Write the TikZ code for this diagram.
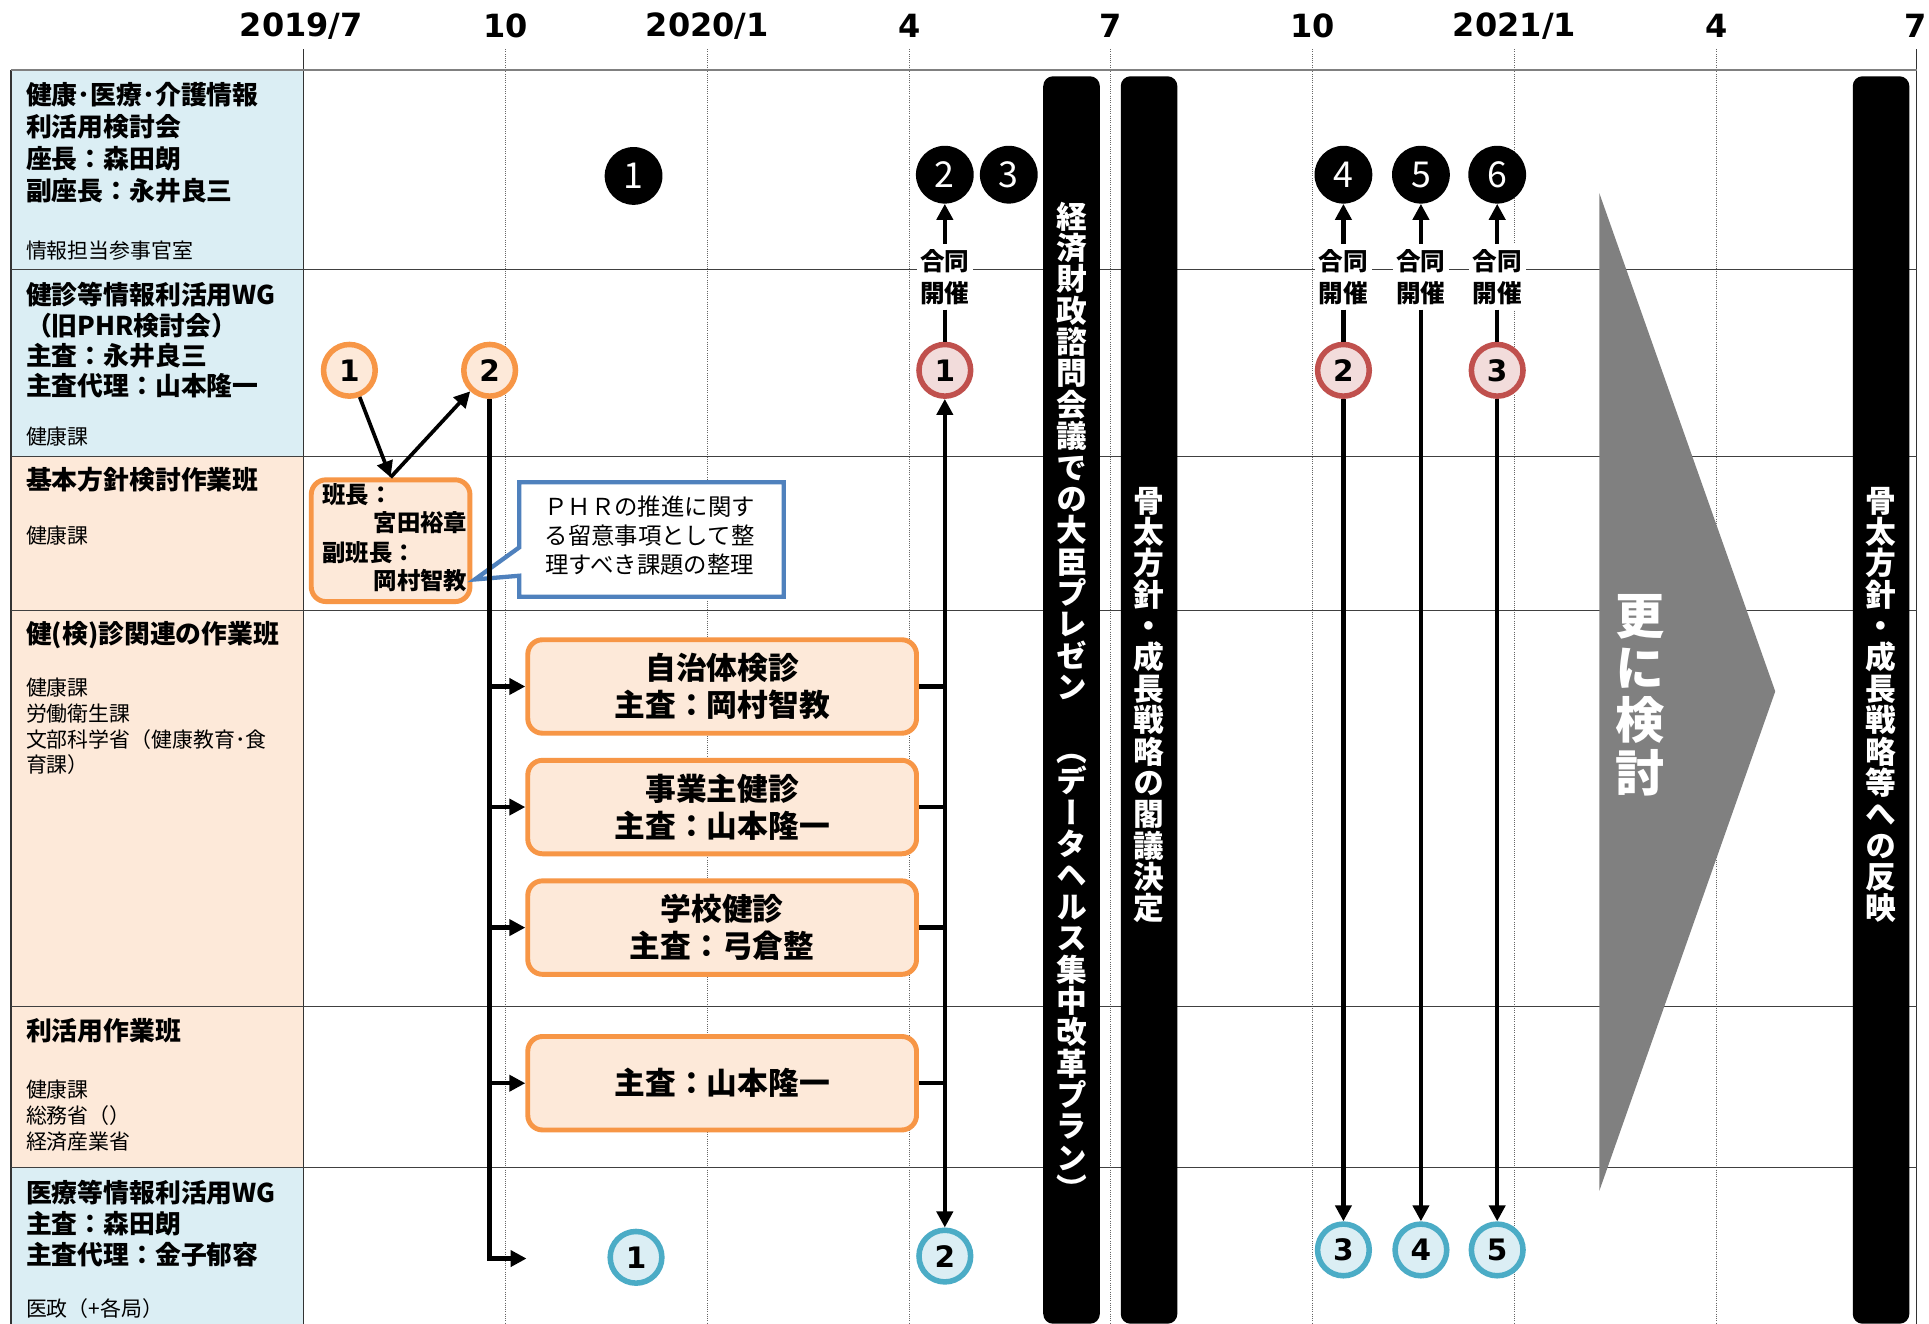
\documentclass[tikz,border=0pt]{standalone}
\usepackage{fontspec}
\setmainfont{Noto Sans CJK JP}
\newfontfamily\dv{DejaVu Sans}
\newfontfamily\vjp[RawFeature=+vert]{Noto Sans CJK JP}
\usetikzlibrary{arrows.meta}
\definecolor{lblue}{HTML}{DBEEF4}
\definecolor{peach}{HTML}{FDE9D9}
\definecolor{oline}{HTML}{F79646}
\definecolor{rfill}{HTML}{F2DCDB}
\definecolor{rline}{HTML}{C0504D}
\definecolor{bline}{HTML}{4BACC6}
\definecolor{cline}{HTML}{4F81BD}
\definecolor{trig}{HTML}{808080}
\definecolor{rowline}{HTML}{404040}
\begin{document}
\begin{tikzpicture}[x=1pt,y=-1pt,
 hb/.style={font=\bfseries\fontsize{21}{26}\selectfont, align=left, anchor=west, inner sep=0pt},
 hs/.style={font=\fontsize{17}{21}\selectfont, align=left, anchor=west, inner sep=0pt},
 tl/.style={font=\dv\bfseries\fontsize{26}{30}\selectfont, inner sep=0pt},
 bc/.style={circle, fill=black, minimum size=47pt, inner sep=0pt, text=white, font=\fontsize{29}{30}\selectfont},
 cc/.style={circle, minimum size=42pt, inner sep=0pt, line width=4.5pt, font=\dv\bfseries\fontsize{24}{26}\selectfont},
 oc/.style={cc, draw=oline, fill=peach},
 rc/.style={cc, draw=rline, fill=rfill},
 lc/.style={cc, draw=bline, fill=lblue},
 gl/.style={fill=white, font=\bfseries\fontsize{20}{26}\selectfont, align=center, inner xsep=3pt, inner ysep=4pt},
 ob/.style={draw=oline, fill=peach, line width=4pt, rounded corners=12pt, minimum width=316pt, minimum height=76pt, align=center, inner sep=0pt, font=\bfseries\fontsize{25}{30}\selectfont},
 hn/.style={font=\bfseries\fontsize{19}{23}\selectfont, inner sep=0pt},
 bar/.style={fill=black, rounded corners=8pt},
 vt/.style={text=white, align=center, inner sep=0pt, font=\vjp\bfseries\fontsize{25}{25.5}\selectfont},
 thk/.style={line width=3.6pt},
 arr/.style={thk, -{Triangle[length=13pt,width=13pt]}},
 grid/.style={densely dotted, line width=0.8pt, black!60},
 rl/.style={line width=1pt, rowline}
]
\useasboundingbox (0,0) rectangle (1568,1076);
\fill[white] (0,0) rectangle (1568,1076);

% header column fills
\fill[lblue] (9,57) rectangle (247,219);
\fill[lblue] (9,219) rectangle (247,371);
\fill[peach] (9,371) rectangle (247,496);
\fill[peach] (9,496) rectangle (247,818);
\fill[peach] (9,818) rectangle (247,949);
\fill[lblue] (9,949) rectangle (247,1076);

% grid lines
\foreach \gx in {411,575,739,903,1067,1231,1395}
  \draw[grid] (\gx,40) -- (\gx,1076);
\draw[line width=1pt, black!80] (247,40) -- (247,1076);
\draw[line width=1pt, black!80] (1558,40) -- (1558,1076);
\draw[line width=1pt, black!80] (9,57) -- (9,1076);
\draw[line width=1.2pt, black!50] (9,57) -- (1558,57);
\foreach \gy in {219,371,496,818,949}
  \draw[rl] (9,\gy) -- (1558,\gy);

% timeline labels
\node[tl] (t1) at (245,21) {2019/7};
\node[tl] (t2) at (411,21) {10};
\node[tl] (t3) at (575,21) {2020/1};
\node[tl] (t4) at (739,21) {4};
\node[tl] (t5) at (903,21) {7};
\node[tl] (t6) at (1067,21) {10};
\node[tl] (t7) at (1231,21) {2021/1};
\node[tl] (t8) at (1395,21) {4};
\node[tl] (t9) at (1557,21) {7};

% row headers
\node[hb] (h1) at (21,116) {健康･医療･介護情報\\利活用検討会\\座長：森田朗\\副座長：永井良三};
\node[hs] (h1s) at (21,204) {情報担当参事官室};
\node[hb, font=\bfseries\fontsize{21}{24.5}\selectfont] (h2) at (21,276.5) {健診等情報利活用WG\\（旧PHR検討会）\\主査：永井良三\\主査代理：山本隆一};
\node[hs] (h2s) at (21,355) {健康課};
\node[hb] (h3) at (21,390) {基本方針検討作業班};
\node[hs] (h3s) at (21,435) {健康課};
\node[hb] (h4) at (21,516) {健(検)診関連の作業班};
\node[hs] (h4s) at (21,590.5) {健康課\\労働衛生課\\文部科学省（健康教育･食\\育課）};
\node[hb] (h5) at (21,838) {利活用作業班};
\node[hs] (h5s) at (21,907) {健康課\\総務省（）\\経済産業省};
\node[hb, font=\bfseries\fontsize{21}{25.5}\selectfont] (h6) at (21,994.5) {医療等情報利活用WG\\主査：森田朗\\主査代理：金子郁容};
\node[hs] (h6s) at (21,1064) {医政（+各局）};

% black bars
\fill[bar] (848,62) rectangle (894,1076);
\fill[bar] (911,62) rectangle (957,1076);
\fill[bar] (1506,62) rectangle (1552,1076);
\node[vt] (v1) at (871,570) {経\\済\\財\\政\\諮\\問\\会\\議\\で\\の\\大\\臣\\プ\\レ\\ゼ\\ン\\　\\（\\デ\\ー\\タ\\ヘ\\ル\\ス\\集\\中\\改\\革\\プ\\ラ\\ン\\）};
\node[vt] (v2) at (934,573) {骨\\太\\方\\針\\・\\成\\長\\戦\\略\\の\\閣\\議\\決\\定};
\node[vt] (v3) at (1529,573) {骨\\太\\方\\針\\・\\成\\長\\戦\\略\\等\\へ\\の\\反\\映};

% grey chevron
\fill[trig] (1300,157) -- (1443,562) -- (1300,968) -- cycle;
\node[vt, font=\vjp\bfseries\fontsize{40}{42.5}\selectfont] (more) at (1333,565) {更\\に\\検\\討};

% black circles
\node[bc] (b1) at (515,143) {1};
\node[bc] (b2) at (768,142) {2};
\node[bc] (b3) at (820,142) {3};
\node[bc] (b4) at (1092,142) {4};
\node[bc] (b5) at (1155,142) {5};
\node[bc] (b6) at (1217,142) {6};

% joint labels
\node[gl] (g1) at (768,225) {合同\\開催};
\node[gl] (g4) at (1092,225) {合同\\開催};
\node[gl] (g5) at (1155,225) {合同\\開催};
\node[gl] (g6) at (1217,225) {合同\\開催};

% coloured circles
\node[oc] (o1) at (284,301) {1};
\node[oc] (o2) at (398,301) {2};
\node[rc] (r1) at (768,301) {1};
\node[rc] (r2) at (1092,301) {2};
\node[rc] (r3) at (1217,301) {3};
\node[lc] (l1) at (517,1022) {1};
\node[lc] (l2) at (768,1021) {2};
\node[lc] (l3) at (1092,1016) {3};
\node[lc] (l4) at (1155,1016) {4};
\node[lc] (l5) at (1217,1016) {5};

% basic policy box
\node[draw=oline, fill=peach, line width=4pt, rounded corners=12pt, minimum width=129pt, minimum height=99pt, inner sep=0pt] (han) at (317.5,439.5) {};
\node[hn, anchor=west] (hn1) at (262,402) {班長：};
\node[hn, anchor=east] (hn2) at (380,425) {宮田裕章};
\node[hn, anchor=west] (hn3) at (262,449) {副班長：};
\node[hn, anchor=east] (hn4) at (380,472) {岡村智教};

% callout
\draw[cline, line width=3.5pt, fill=white, line join=miter] (422,392) -- (637,392) -- (637,485) -- (422,485) -- (422,468) -- (386,471) -- (422,445) -- cycle;
\node[font=\fontsize{19}{23.5}\selectfont, align=center, inner sep=0pt] (call) at (528,435.5) {ＰＨＲの推進に関す\\る留意事項として整\\理すべき課題の整理};

% working group boxes
\node[ob] (A) at (587,558) {自治体検診\\主査：岡村智教};
\node[ob] (B) at (587,656) {事業主健診\\主査：山本隆一};
\node[ob] (C) at (587,754) {学校健診\\主査：弓倉整};
\node[ob] (D) at (587,880.5) {主査：山本隆一};

% connectors
\draw[arr, line width=3pt] (o1) -- (han.north);
\draw[arr, line width=3pt] (han.north) -- (o2);
\coordinate (e6) at (428,1023);
\draw[arr] (o2.south) |- (e6);
\draw[arr] (o2.south |- A.west) -- (A.west);
\draw[arr] (o2.south |- B.west) -- (B.west);
\draw[arr] (o2.south |- C.west) -- (C.west);
\draw[arr] (o2.south |- D.west) -- (D.west);
\draw[thk] (A.east) -- (A.east -| r1.center);
\draw[thk] (B.east) -- (B.east -| r1.center);
\draw[thk] (C.east) -- (C.east -| r1.center);
\draw[thk] (D.east) -- (D.east -| r1.center);
\draw[thk, {Triangle[length=13pt,width=13pt]}-{Triangle[length=13pt,width=13pt]}] (r1.south) -- (l2.north);
\draw[arr] (r2.south) -- (l3.north);
\draw[arr] (g5.south) -- (l4.north);
\draw[arr] (r3.south) -- (l5.north);
\draw[arr] (g1.north) -- (b2.south);
\draw[arr] (g4.north) -- (b4.south);
\draw[arr] (g5.north) -- (b5.south);
\draw[arr] (g6.north) -- (b6.south);
\draw[thk] (g1.south) -- (r1.north);
\draw[thk] (g4.south) -- (r2.north);
\draw[thk] (g6.south) -- (r3.north);
\end{tikzpicture}
\end{document}
